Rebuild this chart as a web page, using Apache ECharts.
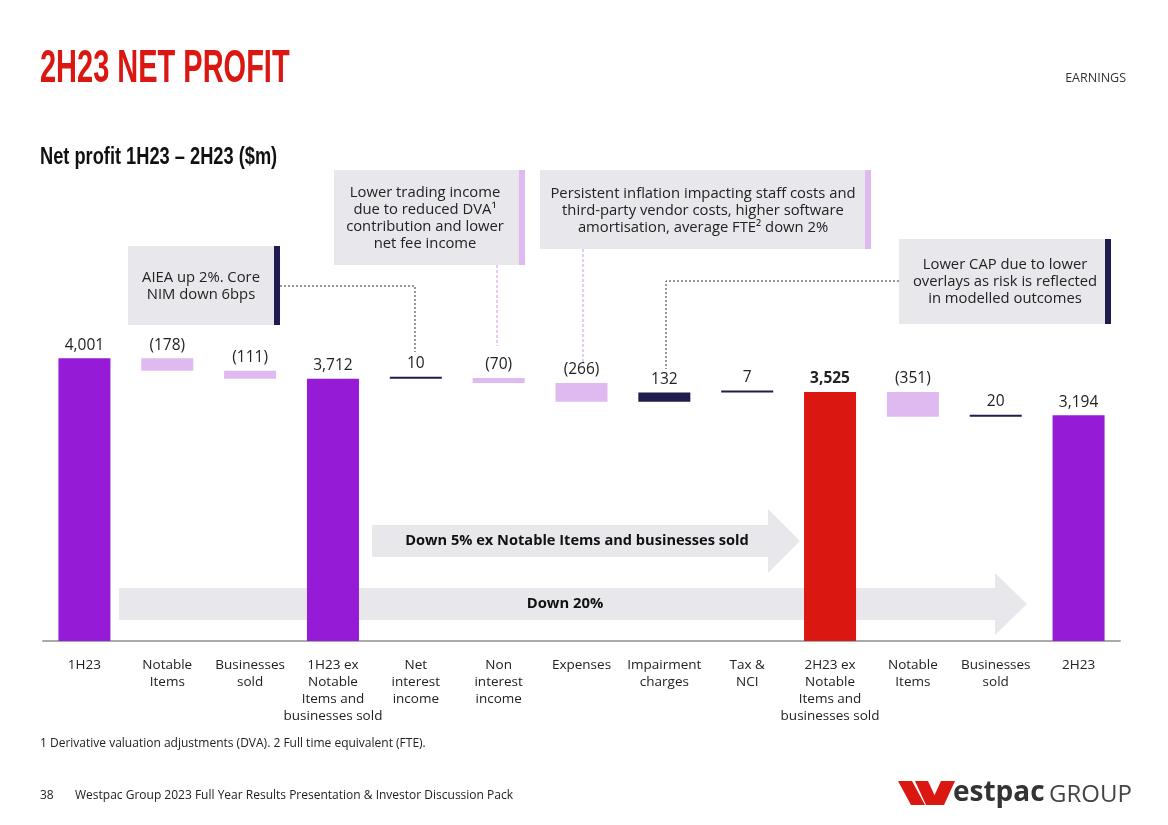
<!DOCTYPE html>
<html>
<head>
<meta charset="utf-8">
<script src="https://cdn.jsdelivr.net/npm/echarts@6/dist/echarts.min.js"></script>
<style>
html,body{margin:0;padding:0;background:#fff;}
#chart{width:1168px;height:825px;}
</style>
</head>
<body>
<div id="chart"></div>
<script>
// ---- data ----
const categories = ['1H23','Notable\nItems','Businesses\nsold','1H23 ex\nNotable\nItems and\nbusinesses sold','Net\ninterest\nincome','Non\ninterest\nincome','Expenses','Impairment\ncharges','Tax &\nNCI','2H23 ex\nNotable\nItems and\nbusinesses sold','Notable\nItems','Businesses\nsold','2H23'];
const values = [4001,-178,-111,3712,10,-70,-266,132,7,3525,-351,20,3194];
const isTotal = [true,false,false,true,false,false,false,false,false,true,false,false,true];
const highlight = [false,false,false,false,false,false,false,false,false,true,false,false,false];

// ---- colours ----
const C_TOTAL = '#961bd6', C_HL = '#da1710', C_NEG = '#dfbaf0', C_POS = '#1f1c4f';

const fmt = v => { const s = Math.abs(v).toLocaleString('en-US'); return v < 0 ? '(' + s + ')' : s; };

const base = [], bar = [];
let running = 0;
values.forEach((v, i) => {
  if (isTotal[i]) { base.push(0); running = v; bar.push({value: v, raw: v, itemStyle:{color: highlight[i] ? C_HL : C_TOTAL}, label:{fontWeight: highlight[i] ? 'bold' : 'normal'}}); }
  else {
    const end = running + v;
    base.push(Math.min(running, end));
    bar.push({value: Math.abs(v), raw: v, itemStyle:{color: v < 0 ? C_NEG : C_POS}});
    running = end;
  }
});

const FONT = '"Open Sans", sans-serif';
const TXT = '#222';

const chart = echarts.init(document.getElementById('chart'), null, {renderer:'canvas'});

function box(x, y, w, h, accent, lines, cx, cy) {
  return [
    {type:'rect', shape:{x:x, y:y, width:w, height:h}, style:{fill:'#e8e7ec'}},
    {type:'rect', shape:{x:x+w-6, y:y, width:6, height:h}, style:{fill:accent}},
    {type:'text', x:cx, y:cy, style:{text:lines, font:'14.8px ' + FONT, fill:TXT, align:'center', verticalAlign:'middle', lineHeight:17}}
  ];
}

const graphics = [
  {type:'text', x:40, y:69, scaleX:0.63, style:{text:'2H23 NET PROFIT', font:'bold 46px "Liberation Sans Narrow", sans-serif', fill:'#da1710', verticalAlign:'middle'}},
  {type:'text', x:40, y:157, scaleX:0.76, style:{text:'Net profit 1H23 – 2H23 ($m)', font:'bold 24px "Liberation Sans Narrow", sans-serif', fill:'#111', verticalAlign:'middle'}},
  {type:'text', x:1126, y:78, style:{text:'EARNINGS', font:'12.5px ' + FONT, fill:'#333', align:'right', verticalAlign:'middle'}},
  // annotation boxes
  ...box(128, 246, 152, 79, C_POS, 'AIEA up 2%. Core\nNIM down 6bps', 201, 286),
  ...box(334, 170, 191, 95, C_NEG, 'Lower trading income\ndue to reduced DVA¹\ncontribution and lower\nnet fee income', 425, 218),
  ...box(540, 170, 331, 79, C_NEG, 'Persistent inflation impacting staff costs and\nthird-party vendor costs, higher software\namortisation, average FTE² down 2%', 703, 211),
  ...box(899, 239, 212, 85, C_POS, 'Lower CAP due to lower\noverlays as risk is reflected\nin modelled outcomes', 1005, 282),
  // connectors
  {type:'polyline', shape:{points:[[280,286],[415,286],[415,352]]}, style:{stroke:'#333', lineWidth:1, lineDash:[2,2], fill:null}},
  {type:'polyline', shape:{points:[[497,265],[497,346]]}, style:{stroke:C_NEG, lineWidth:1.5, lineDash:[3,2], fill:null}},
  {type:'polyline', shape:{points:[[583,249],[583,364]]}, style:{stroke:C_NEG, lineWidth:1.5, lineDash:[3,2], fill:null}},
  {type:'polyline', shape:{points:[[899,281],[666,281],[666,369]]}, style:{stroke:'#333', lineWidth:1, lineDash:[2,2], fill:null}},
  // arrows
  {type:'polygon', shape:{points:[[372,525],[768,525],[768,509],[800,541],[768,573],[768,557],[372,557]]}, style:{fill:'#e8e7ec'}},
  {type:'text', x:577, y:541, style:{text:'Down 5% ex Notable Items and businesses sold', font:'bold 14.6px ' + FONT, fill:'#111', align:'center', verticalAlign:'middle'}},
  {type:'polygon', shape:{points:[[119,588],[995,588],[995,573],[1027,604],[995,635],[995,620],[119,620]]}, style:{fill:'#e8e7ec'}},
  {type:'text', x:565, y:604, style:{text:'Down 20%', font:'bold 14.8px ' + FONT, fill:'#111', align:'center', verticalAlign:'middle'}},
  // footer
  {type:'text', x:40, y:744, style:{text:'1 Derivative valuation adjustments (DVA). 2 Full time equivalent (FTE).', font:'12px ' + FONT, fill:'#222', verticalAlign:'middle'}},
  {type:'text', x:40, y:796, style:{text:'38', font:'12px ' + FONT, fill:'#222', verticalAlign:'middle'}},
  {type:'text', x:75, y:796, style:{text:'Westpac Group 2023 Full Year Results Presentation & Investor Discussion Pack', font:'12px ' + FONT, fill:'#222', verticalAlign:'middle'}},
  // logo
  {type:'polygon', shape:{points:[[898,781],[912,781],[925,805],[911,805]]}, style:{fill:'#da1710'}},
  {type:'polygon', shape:{points:[[915,781],[928,781],[939,805],[926,805]]}, style:{fill:'#da1710'}},
  {type:'polygon', shape:{points:[[941,781],[955,781],[944,805],[930,805]]}, style:{fill:'#da1710'}},
  {type:'text', x:953, y:793, style:{text:'estpac', font:'bold 28px "Open Sans", sans-serif', fill:'#333', verticalAlign:'middle'}},
  {type:'text', x:1049, y:795, style:{text:'GROUP', font:'24px "Open Sans", sans-serif', fill:'#444', verticalAlign:'middle'}}
];

chart.setOption({
  animation:false,
  backgroundColor:'#fff',
  grid:{left:43, right:48, top:323, bottom:184, containLabel:false},
  xAxis:{
    type:'category', data:categories,
    axisTick:{show:false},
    axisLine:{lineStyle:{color:'#aaaaaa', width:2}},
    axisLabel:{interval:0, color:'#222', fontFamily:FONT, fontSize:13.5, lineHeight:17, margin:16}
  },
  yAxis:{type:'value', min:0, max:4500, show:false, splitLine:{show:false}},
  series:[
    {type:'bar', stack:'w', data:base, barWidth:52, itemStyle:{color:'transparent'}, emphasis:{disabled:true}, silent:true},
    {type:'bar', stack:'w', data:bar, barWidth:52, barMinHeight:2, silent:true,
     label:{show:true, position:'top', distance:5, color:TXT, fontFamily:FONT, fontSize:15.5,
            formatter: p => fmt(p.data.raw)}}
  ],
  graphic: graphics
});
</script>
</body>
</html>
